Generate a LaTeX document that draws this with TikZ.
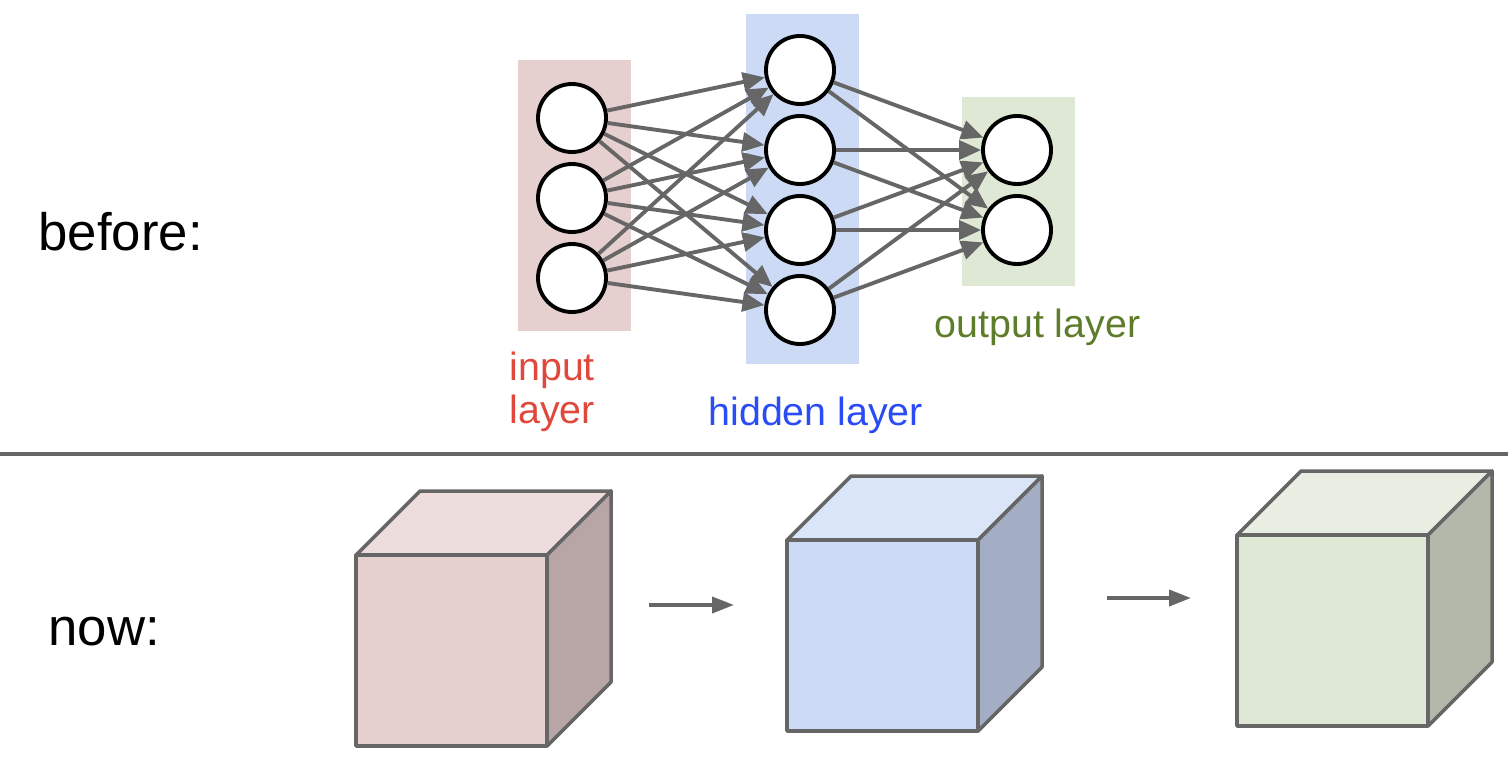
\documentclass[tikz,border=0pt]{standalone}
\usepackage{fontspec}
\setmainfont{Liberation Sans}
\usetikzlibrary{arrows.meta, positioning}
\definecolor{cpink}{HTML}{E6CFCF}
\definecolor{cblue}{HTML}{CCDAF5}
\definecolor{cgreen}{HTML}{DFE7D5}
\definecolor{tred}{HTML}{E0483C}
\definecolor{tblue}{HTML}{2A4CF5}
\definecolor{tgreen}{HTML}{5E7D2A}
\definecolor{cgrey}{HTML}{666666}
\tikzset{
  every picture/.style={line width=0.9pt},
  neuron/.style={circle, draw=black, fill=white, line width=1.1pt, minimum size=0.68cm, inner sep=0pt},
  link/.style={-{Triangle[length=2.2mm, width=1.9mm]}, draw=cgrey, line width=1.1pt},
  flow/.style={-{Triangle[length=2.2mm, width=1.6mm]}, draw=cgrey, line width=1.1pt},
  layerlbl/.style={font=\fontsize{11.2}{12.2}\selectfont, anchor=base west, align=left, inner sep=0pt},
  rowlbl/.style={font=\fontsize{15}{18}\selectfont, anchor=base west, inner sep=0pt},
  edge/.style={draw=cgrey, line width=1pt, line join=round},
}
% one cube: #1 x, #2 y of front bottom-left corner, #3 colour
\newcommand{\layercube}[3]{
  \begin{scope}[shift={(#1,#2)}]
    \filldraw[edge, fill=#3!70!white] (0,1.91) -- (0.64,2.55) -- (2.55,2.55) -- (1.91,1.91) -- cycle;
    \filldraw[edge, fill=#3!80!black] (1.91,0) -- (2.55,0.64) -- (2.55,2.55) -- (1.91,1.91) -- cycle;
    \filldraw[edge, fill=#3] (0,0) rectangle (1.91,1.91);
  \end{scope}}

\begin{document}
\begin{tikzpicture}
  \useasboundingbox (0,0) rectangle (15.08,7.70);

  % before: the network
  \fill[cpink] (5.18,4.39) rectangle (6.31,7.10);
  \fill[cblue] (7.46,4.06) rectangle (8.59,7.56);
  \fill[cgreen] (9.62,4.84) rectangle (10.75,6.73);
  \foreach \i/\y in {1/6.52, 2/5.72, 3/4.92}
    \node[neuron] (in\i) at (5.72,\y) {};
  \foreach \j/\y in {1/7.00, 2/6.20, 3/5.40, 4/4.60}
    \node[neuron] (hid\j) at (8.00,\y) {};
  \foreach \k/\y in {1/6.20, 2/5.40}
    \node[neuron] (out\k) at (10.17,\y) {};
  \foreach \i in {1,2,3}
    \foreach \j in {1,...,4}
      \draw[link] (in\i) -- (hid\j);
  \foreach \j in {1,...,4}
    \foreach \k in {1,2}
      \draw[link] (hid\j) -- (out\k);
  \node[layerlbl, text=tred] (lblin) at (5.08,3.47) {input\\layer};
  \node[layerlbl, text=tblue] (lblhid) at (7.07,3.45) {hidden layer};
  \node[layerlbl, text=tgreen] (lblout) at (9.33,4.33) {output layer};
  \node[rowlbl] (before) at (0.37,5.20) {before:};

  \draw[cgrey, line width=1pt] (0,3.16) -- (15.08,3.16);

  % now: the volumes
  \node[rowlbl] (now) at (0.47,1.25) {now:};
  \layercube{3.56}{0.24}{cpink}
  \layercube{7.87}{0.39}{cblue}
  \layercube{12.37}{0.44}{cgreen}
  \coordinate (a1s) at (6.49,1.65);
  \coordinate (a1e) at (7.34,1.65);
  \coordinate (a2s) at (11.07,1.72);
  \coordinate (a2e) at (11.91,1.72);
  \draw[flow] (a1s) -- (a1e);
  \draw[flow] (a2s) -- (a2e);
\end{tikzpicture}
\end{document}
